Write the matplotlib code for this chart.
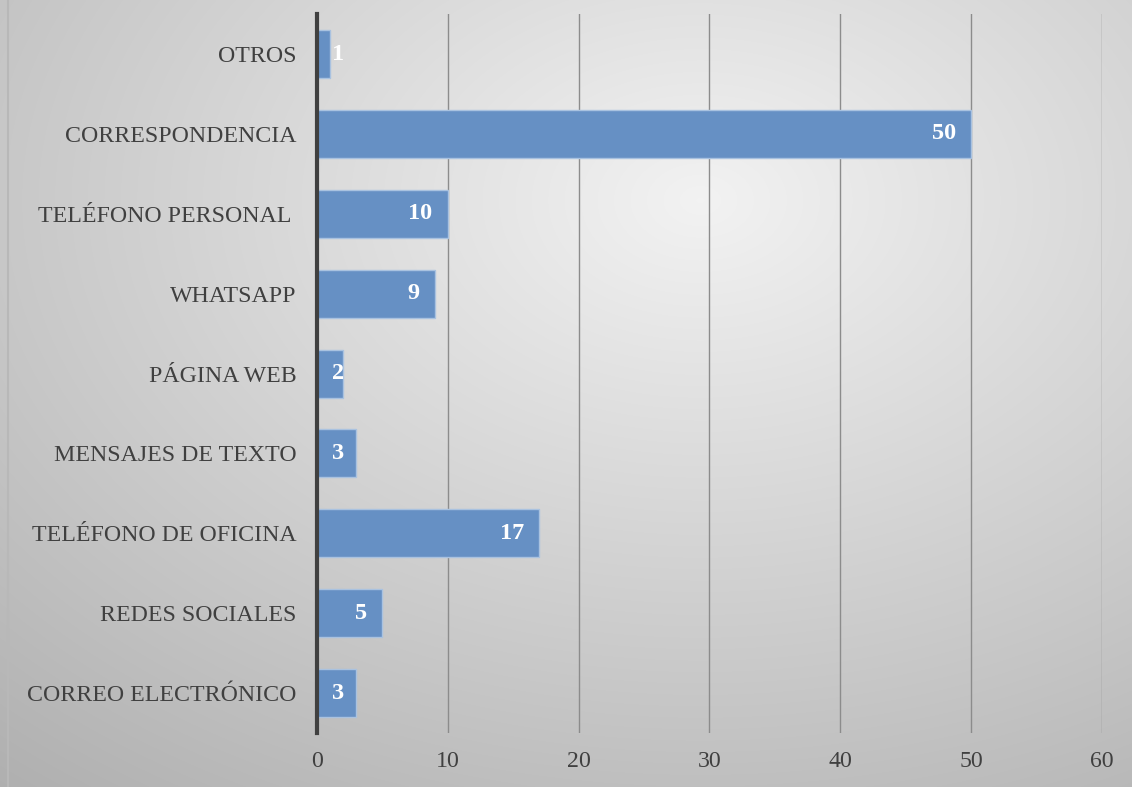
import numpy as np
import matplotlib.pyplot as plt

# data (bottom to top as drawn)
categories = ['CORREO ELECTRÓNICO', 'REDES SOCIALES', 'TELÉFONO DE OFICINA',
              'MENSAJES DE TEXTO', 'PÁGINA WEB', 'WHATSAPP',
              'TELÉFONO PERSONAL ', 'CORRESPONDENCIA', 'OTROS']
values = [3, 5, 17, 3, 2, 9, 10, 50, 1]
x_ticks = [0, 10, 20, 30, 40, 50, 60]

plt.rcParams['font.family'] = ['Liberation Serif', 'DejaVu Serif']

fig = plt.figure(figsize=(11.32, 7.87), dpi=100)

# soft radial gradient background
bg = fig.add_axes([0, 0, 1, 1], zorder=-10)
yy, xx = np.mgrid[0:787, 0:1132]
r = np.sqrt(((xx - 700) / 1132.0) ** 2 + ((yy - 200) / 787.0) ** 2)
shade = 0.95 - 0.27 * r
bg.imshow(np.dstack([shade] * 3), aspect='auto',
          extent=[0, 1, 0, 1], origin='upper')
bg.plot([0.0075, 0.0075], [0, 1], color='#b8b8b8', lw=1.5)
bg.set_xlim(0, 1)
bg.set_ylim(0, 1)
bg.axis('off')

ax = fig.add_axes([0.280, 0.0686, 0.6935, 0.9134])
ax.patch.set_alpha(0)

y = np.arange(len(categories))
ax.barh(y, values, height=0.6, color='#6690c4', edgecolor='#a9c2e0',
        linewidth=1, zorder=3)

for yi, v in zip(y, values):
    if v > 3:
        ax.annotate(str(v), (v, yi), xytext=(-11, 0), textcoords='offset points',
                    ha='right', va='center', color='white', fontsize=17.5,
                    fontweight='bold', zorder=4)
    else:
        ax.annotate(str(v), (0, yi), xytext=(11, 0), textcoords='offset points',
                    ha='left', va='center', color='white', fontsize=17.5,
                    fontweight='bold', zorder=4)

ax.set_xlim(0, 60)
ax.set_ylim(-0.5, 8.5)
ax.set_xticks(x_ticks)
ax.set_yticks(y)
ax.set_yticklabels(categories)
ax.grid(axis='x', color='#8c8c8c', linewidth=1, zorder=1)
ax.axvline(0, color='#404040', linewidth=3, zorder=5, clip_on=False)

for s in ax.spines.values():
    s.set_visible(False)
ax.tick_params(axis='both', length=0, labelsize=17.2, labelcolor='#404040')
ax.tick_params(axis='y', pad=15)
ax.tick_params(axis='x', pad=13)

fig.savefig('out.png', dpi=100)
